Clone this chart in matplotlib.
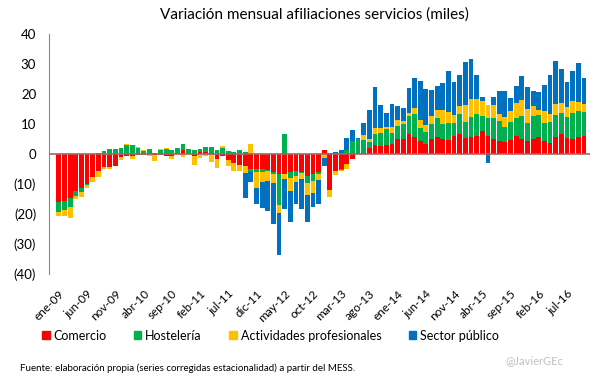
import numpy as np
import matplotlib
matplotlib.use("Agg")
import matplotlib.pyplot as plt
from matplotlib.patches import Patch

plt.rcParams['font.family'] = ['Lato', 'DejaVu Sans']

# monthly data, ene-09 .. oct-16 (miles)
meses = ['ene', 'feb', 'mar', 'abr', 'may', 'jun', 'jul', 'ago', 'sep', 'oct', 'nov', 'dic']
labels = [f"{m}-{str(y)[2:]}" for y in range(2009, 2017) for m in meses][:94]

comercio = [-15.9, -15.5, -14.5, -12.2, -11.2, -10.0, -7.5, -5.6, -4.3, -4.3,
            -4.1, -0.9, -0.5, -0.6, -0.3, -0.3, 0.5, -0.2, -0.3, -0.6,
            -0.5, 0.5, 1.5, 0.3, -0.8, 0.6, 0.8, 0.3, -1.5, -0.5,
            -2.0, -3.0, -3.5, -4.0, -5.0, -5.0, -5.0, -5.3, -5.9, -6.7,
            -6.5, -5.9, -5.5, -5.9, -7.2, -6.7, -5.9, 1.2, -12.0, -5.5,
            -5.0, -3.4, -1.7, 0.2, 0.5, 2.0, 3.0, 2.8, 3.0, 3.3,
            5.0, 5.0, 6.7, 5.8, 4.3, 3.2, 4.9, 5.6, 4.9, 4.7,
            6.0, 6.6, 5.4, 5.8, 6.1, 7.8, 6.0, 5.0, 4.4, 4.1,
            4.7, 6.0, 5.0, 4.4, 5.0, 5.6, 4.4, 3.8, 5.6, 6.7,
            5.4, 5.0, 5.6, 6.0]
hosteleria = [-3.3, -3.3, -3.0, -1.7, -1.3, -0.2, -0.3, 0.3, 0.9, 1.8,
              1.7, 2.0, 3.0, 2.9, 2.0, 1.0, 1.2, 0.3, 1.5, 1.7,
              1.5, 1.5, 1.8, 1.4, 1.2, 1.2, 1.5, 1.9, 1.5, 2.0,
              1.0, 0.8, 1.3, 0.8, -0.9, -0.9, -0.9, -0.5, -0.6, -10.3,
              6.7, -2.2, -1.8, -0.5, -2.3, -2.3, -0.8, 0.0, 0.0, -0.3,
              -0.3, 1.2, 4.3, 4.8, 4.3, 1.9, 3.7, 4.3, 5.2, 3.8,
              4.3, 5.0, 6.1, 7.4, 4.4, 4.2, 5.1, 6.3, 5.1, 5.6,
              4.4, 6.8, 5.3, 6.7, 7.4, 4.9, 6.1, 7.1, 6.6, 5.0,
              6.1, 6.1, 7.8, 5.8, 7.8, 7.4, 6.0, 7.0, 7.4, 7.1,
              6.8, 8.8, 8.8, 8.1]
actividades = [-1.3, -1.7, -3.7, -1.2, -1.7, -1.0, -1.5, -2.2, -0.8, -0.8,
               0.0, -1.2, 0.3, -1.1, 0.4, 0.3, -0.8, -2.0, 0.3, 0.3,
               -1.2, 0.0, -1.0, 0.0, -2.8, -1.2, -0.5, -2.8, -3.3, 0.8,
               -2.0, -2.7, -2.1, -2.2, 3.5, -5.5, -3.5, -3.1, -3.3, -2.8,
               -1.9, -4.1, -1.9, -1.8, -4.1, -3.9, -2.0, -1.2, -2.3, -1.2,
               -0.5, -1.5, 0.0, 0.0, 1.4, 1.1, 1.9, 1.7, 0.9, 2.0,
               2.0, 1.1, 1.0, 2.0, 2.6, 2.4, 2.7, 2.8, 4.7, 3.6,
               2.6, 2.7, 5.6, 5.9, 4.8, 5.0, 4.2, 4.2, 2.2, 3.3,
               3.6, 5.0, 5.2, 4.8, 3.3, 1.7, 3.9, 2.4, 3.7, 3.3,
               3.6, 3.9, 3.1, 2.6]
sector_publico = [0.0] * 33 + [
    -8.3, -3.3, -5.3, -8.7, -10.0, -13.5, -13.7,
    -10.0, -10.5, -7.5, -10.0, -8.9, -4.7, -8.0, -2.8, 0.5, 0.7,
    1.5, 4.2, 3.7, 0.2, 4.3, 9.7, 13.6, 7.6, 4.7, 7.6,
    4.7, 4.1, 8.3, 10.2, 13.0, 11.8, 8.7, 8.0, 9.1, 13.7,
    11.1, 10.1, 14.4, 13.3, 8.0, 1.4, -3.1, 2.8, 7.8, 8.6,
    4.4, 5.6, 8.0, 7.4, 5.0, 6.1, 8.7, 13.1, 14.4, 11.1,
    8.3, 10.1, 13.0, 8.8]

series = [("Comercio", comercio, "#ff0000"),
          ("Hostelería", hosteleria, "#00b050"),
          ("Actividades profesionales", actividades, "#ffc000"),
          ("Sector público", sector_publico, "#0070c0")]

fig = plt.figure(figsize=(6.05, 3.78), dpi=100)
ax = fig.add_axes([0.0805, 0.275, 0.894, 0.635])

x = np.arange(len(labels))
pos_base = np.zeros(len(x))
neg_base = np.zeros(len(x))
for name, vals, color in series:
    v = np.array(vals)
    bottom = np.where(v >= 0, pos_base, neg_base)
    ax.bar(x, v, bottom=bottom, width=0.85, color=color, linewidth=0)
    pos_base += np.where(v >= 0, v, 0)
    neg_base += np.where(v < 0, v, 0)

ax.axhline(0, color="#b06060", linewidth=1.2)
ax.set_xlim(-1.8, 94)
ax.set_ylim(-40, 40)
yt = np.arange(-40, 41, 10)
ax.set_yticks(yt)
ax.set_yticklabels([f"({abs(t)})" if t < 0 else str(t) for t in yt], fontsize=9.5)
ax.tick_params(axis='y', length=0, pad=9)
ax.set_xticks(x[::5])
ax.set_xticklabels(labels[::5], rotation=45, ha='right', rotation_mode='anchor', fontsize=8.5)
ax.tick_params(axis='x', length=0, pad=10)
for s in ['top', 'right', 'bottom']:
    ax.spines[s].set_visible(False)
ax.spines['left'].set_color('#888888')

fig.text(0.52, 0.962, "Variación mensual afiliaciones servicios (miles)",
         ha='center', va='center', fontsize=11)

handles = [Patch(color=c, label=n) for n, _, c in series]
fig.legend(handles=handles, loc='center', bbox_to_anchor=(0.447, 0.112), ncol=4,
           frameon=False, fontsize=9, handlelength=0.6, handleheight=0.6,
           handletextpad=0.3, columnspacing=2.2)

fig.text(0.033, 0.025, "Fuente: elaboración propia (series corregidas estacionalidad) a partir del MESS.",
         fontsize=7, va='center')
fig.text(0.835, 0.045, "@JavierGEc", fontsize=8, color='#c0c0c0', va='center')

fig.savefig("out.png", dpi=100)
